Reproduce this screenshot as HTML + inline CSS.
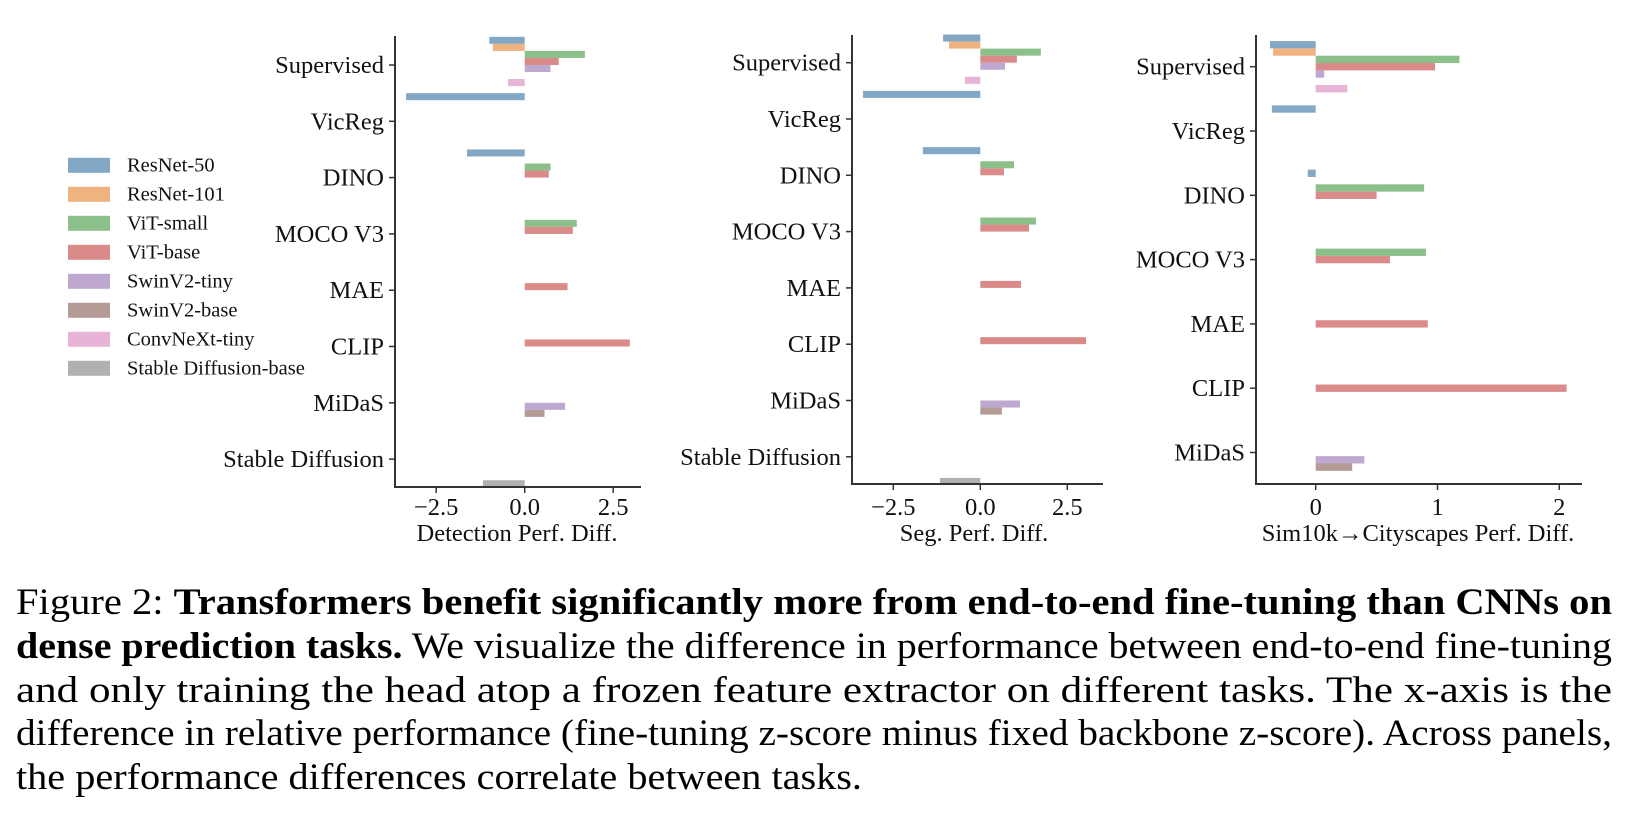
<!DOCTYPE html>
<html><head><meta charset="utf-8">
<style>
html,body{margin:0;padding:0;background:#fff;}
svg{display:block;font-family:"Liberation Serif",serif;}
</style></head>
<body>
<svg id="fig" width="1628" height="816" viewBox="0 0 1628 816" xmlns="http://www.w3.org/2000/svg">
<g id="legend"></g>
<g id="p1"></g>
<g id="p2"></g>
<g id="p3"></g>
<g font-size="37" fill="#000">
<text x="16" y="614" textLength="1596" lengthAdjust="spacingAndGlyphs">Figure 2: <tspan font-weight="bold">Transformers benefit significantly more from end-to-end fine-tuning than CNNs on</tspan></text>
<text x="16" y="658" textLength="1596" lengthAdjust="spacingAndGlyphs"><tspan font-weight="bold">dense prediction tasks.</tspan> We visualize the difference in performance between end-to-end fine-tuning</text>
<text x="16" y="702" textLength="1596" lengthAdjust="spacingAndGlyphs">and only training the head atop a frozen feature extractor on different tasks.  The x-axis is the</text>
<text x="16" y="745" textLength="1596" lengthAdjust="spacingAndGlyphs">difference in relative performance (fine-tuning z-score minus fixed backbone z-score). Across panels,</text>
<text x="16" y="789" textLength="846" lengthAdjust="spacingAndGlyphs">the performance differences correlate between tasks.</text>
</g>
</svg>
<script>
const seriesNames = ["ResNet-50","ResNet-101","ViT-small","ViT-base","SwinV2-tiny","SwinV2-base","ConvNeXt-tiny","Stable Diffusion-base"];
const seriesColors = ["#82a8c5","#efb281","#8bc08a","#d98a89","#bea8cf","#b49b96","#e7b3d7","#b0b0b0"];
const cats8 = ["Supervised","VicReg","DINO","MOCO V3","MAE","CLIP","MiDaS","Stable Diffusion"];
const cats7 = ["Supervised","VicReg","DINO","MOCO V3","MAE","CLIP","MiDaS"];
const detValues = [
 [-1.0,-0.9,1.7,0.96,0.73,0,-0.47,0],
 [-3.35,0,0,0,0,0,0,0],
 [-1.63,0,0.73,0.68,0,0,0,0],
 [0,0,1.47,1.36,0,0,0,0],
 [0,0,0,1.21,0,0,0,0],
 [0,0,0,2.97,0,0,0,0],
 [0,0,0,0,1.14,0.56,0,0],
 [0,0,0,0,0,0,0,-1.18]];
const segValues = [
 [-1.07,-0.9,1.74,1.05,0.71,0,-0.44,0],
 [-3.37,0,0,0,0,0,0,0],
 [-1.65,0,0.97,0.68,0,0,0,0],
 [0,0,1.6,1.4,0,0,0,0],
 [0,0,0,1.17,0,0,0,0],
 [0,0,0,3.04,0,0,0,0],
 [0,0,0,0,1.14,0.62,0,0],
 [0,0,0,0,0,0,0,-1.16]];
const simValues = [
 [-0.375,-0.35,1.18,0.98,0.07,0,0.26],
 [-0.36,0,0,0,0,0,0],
 [-0.065,0,0.89,0.5,0,0,0],
 [0,0,0.905,0.61,0,0,0],
 [0,0,0,0.92,0,0,0],
 [0,0,0,2.06,0,0,0],
 [0,0,0,0,0.4,0.3,0]];
const detTicks = [-2.5,0,2.5];
const detTickLabels = ["\u22122.5","0.0","2.5"];
const segTicks = [-2.5,0,2.5];
const segTickLabels = ["\u22122.5","0.0","2.5"];
const simTicks = [0,1,2];
const simTickLabels = ["0","1","2"];

const NS="http://www.w3.org/2000/svg";
function mk(tag,attrs,parent){const e=document.createElementNS(NS,tag);for(const k in attrs)e.setAttribute(k,attrs[k]);parent.appendChild(e);return e;}

function panel(gid,cfg){
  const g=document.getElementById(gid);
  const xs=v=>cfg.zero+v*cfg.ppu;
  const ys=i=>cfg.y0+i*cfg.step;
  const n=cfg.values[0].length;
  cfg.values.forEach((row,ci)=>{
    row.forEach((v,si)=>{
      if(v===0) return;
      const cy=ys(ci)+(si-(n-1)/2)*cfg.bh;
      const r=mk('rect',{x:Math.min(xs(0),xs(v)),y:cy-cfg.bh/2,width:Math.abs(xs(v)-xs(0)),height:cfg.bh,fill:seriesColors[si]},g);
      
      
    });
  });
  const ax=mk('path',{d:`M${cfg.left} ${cfg.top} V${cfg.bottom} H${cfg.right}`,stroke:'#333',"stroke-width":2,fill:'none'},g);
  
  
  cfg.cats.forEach((c,ci)=>{
    const y=ys(ci);
    const t=mk('line',{x1:cfg.left-6,x2:cfg.left,y1:y,y2:y,stroke:'#333',"stroke-width":1.5},g);
    
    
    const l=mk('text',{x:cfg.left-11,y:y+8,"text-anchor":'end',"font-size":24.5,fill:'#111'},g);
    l.textContent=c;
    
    
  });
  cfg.ticks.forEach((tv,ti)=>{
    const x=xs(tv);
    const t=mk('line',{x1:x,x2:x,y1:cfg.bottom,y2:cfg.bottom+6,stroke:'#333',"stroke-width":1.5},g);
    
    
    const l=mk('text',{x:x,y:515,"text-anchor":'middle',"font-size":24.5,fill:'#111'},g);
    l.textContent=cfg.tickLabels[ti];
    
    
  });
  const tt=mk('text',{x:cfg.titleX,y:541,"text-anchor":'middle',"font-size":24.5,fill:'#111'},g);
  tt.textContent=cfg.title;
  
  
}
panel('p1',{values:detValues,cats:cats8,ticks:detTicks,tickLabels:detTickLabels,zero:524.7,ppu:35.4,y0:65,step:56.3,bh:7.04,left:395,right:641,top:36,bottom:487,title:"Detection Perf. Diff.",titleX:517});
panel('p2',{values:segValues,cats:cats8,ticks:segTicks,tickLabels:segTickLabels,zero:980.3,ppu:34.8,y0:62.7,step:56.3,bh:7.04,left:852,right:1103,top:35,bottom:484,title:"Seg. Perf. Diff.",titleX:974});
panel('p3',{values:simValues,cats:cats7,ticks:simTicks,tickLabels:simTickLabels,zero:1315.7,ppu:121.8,y0:66.7,step:64.3,bh:7.33,left:1256,right:1582,top:35,bottom:484,title:"Sim10k\u2192Cityscapes Perf. Diff.",titleX:1418});

const lg=document.getElementById('legend');
seriesNames.forEach((s,i)=>{
  const y=165.3+i*29;
  const r=mk('rect',{x:68,y:y-7.5,width:42,height:15,fill:seriesColors[i]},lg);
  
  
  const t=mk('text',{x:127,y:y+6,"font-size":20.5,fill:'#111'},lg);
  t.textContent=s;
  
  
});
</script>
</body></html>
